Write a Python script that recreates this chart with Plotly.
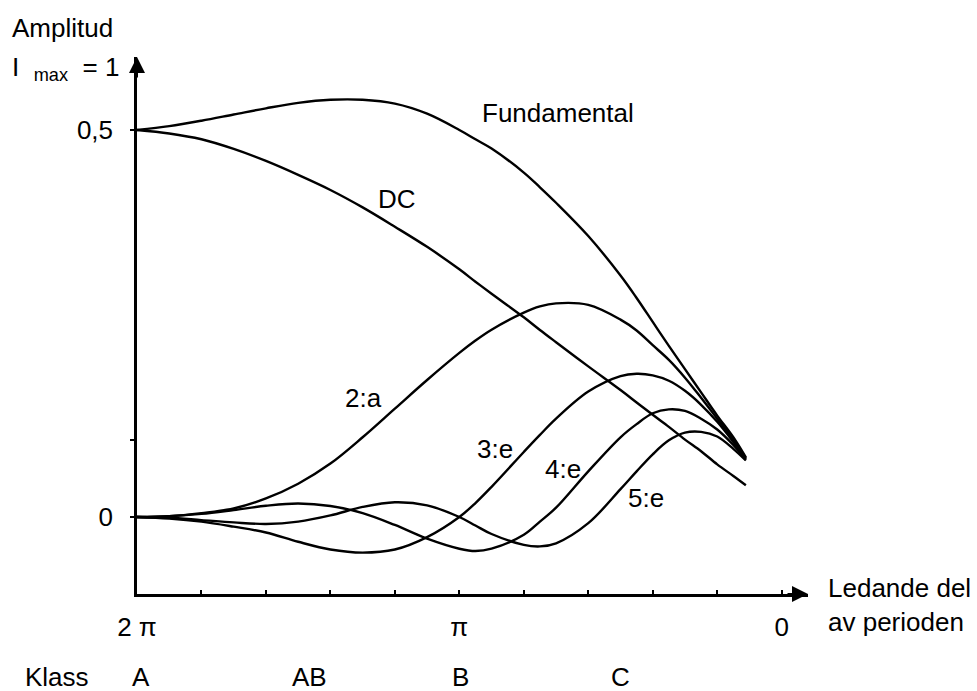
import plotly.graph_objects as go

# conduction angle in degrees (2π = 360 on the left, 0 on the right)
angle = [360, 342, 324, 306, 288, 270, 252, 234, 216, 198, 180, 171, 162, 144, 135,
         126, 108, 90, 81, 72, 63, 54, 45, 36, 27, 20]
fundamental = [0.500, 0.505, 0.512, 0.520, 0.528, 0.535, 0.539, 0.539, 0.534, 0.521, 0.500,
               0.488, 0.476, 0.445, 0.426, 0.406, 0.363, 0.312, 0.283, 0.252, 0.221, 0.191,
               0.161, 0.131, 0.103, 0.077]
dc = [0.500, 0.4955, 0.488, 0.4755, 0.460, 0.442, 0.4225, 0.400, 0.375, 0.349, 0.320, 0.304,
      0.2885, 0.258, 0.2416, 0.2258, 0.1946, 0.164, 0.148, 0.132, 0.1164, 0.100, 0.085,
      0.068, 0.053, 0.041]
second = [0.0, 0.001, 0.005, 0.011, 0.024, 0.043, 0.069, 0.103, 0.140, 0.177, 0.212, 0.228,
          0.242, 0.264, 0.272, 0.276, 0.274, 0.255, 0.241, 0.222, 0.203, 0.180, 0.154,
          0.127, 0.100, 0.076]
third = [0.0, -0.002, -0.006, -0.0125, -0.020, -0.032, -0.042, -0.046, -0.042, -0.026, 0.000,
         0.018, 0.039, 0.084, 0.106, 0.127, 0.162, 0.182, 0.185, 0.183, 0.176, 0.163, 0.145,
         0.123, 0.097, 0.075]
fourth = [0.0, 0.001, 0.004, 0.009, 0.0145, 0.0175, 0.0142, 0.005, -0.0103, -0.028, -0.041,
          -0.044, -0.041, -0.023, -0.006, 0.012, 0.059, 0.103, 0.120, 0.134, 0.139, 0.137,
          0.127, 0.113, 0.093, 0.074]
fifth = [0.0, -0.001, -0.004, -0.007, -0.009, -0.006, 0.002, 0.013, 0.019, 0.015, 0.000,
         -0.011, -0.022, -0.036, -0.038, -0.034, -0.008, 0.036, 0.059, 0.081, 0.099, 0.109,
         0.110, 0.104, 0.088, 0.073]

x_tickvals = [360, 324, 288, 252, 216, 180, 144, 108, 72, 36, 0]
x_ticktext = ["2 π", "", "", "", "", "π", "", "", "", "", "0"]
y_tickvals = [0, 0.1, 0.5]
y_ticktext = ["0", "", "0,5"]

FONT = "Liberation Sans, Arial, sans-serif"
FS = 26
W, H = 977, 691
L, R, T, B = 137, 808, 57, 594  # plot area in pixels


def paper(px, py):
    return (px - L) / (R - L), (B - py) / (B - T)


fig = go.Figure()
for ys in [fundamental, dc, second, third, fourth, fifth]:
    fig.add_trace(go.Scatter(x=angle, y=ys, mode="lines",
                             line=dict(color="black", width=2.4, shape="spline", smoothing=1.0),
                             hoverinfo="skip", showlegend=False))

fig.update_layout(
    width=W, height=H,
    margin=dict(l=L, r=W - R, t=T, b=H - B, pad=0),
    paper_bgcolor="white", plot_bgcolor="white",
    font=dict(family=FONT, size=FS, color="black"),
    showlegend=False,
    xaxis=dict(range=[360, -14.7], showgrid=False, zeroline=False, showline=True,
               linecolor="black", linewidth=2.5, ticks="inside", ticklen=4, tickwidth=1.5,
               tickcolor="black", tickvals=x_tickvals, ticktext=x_ticktext,
               ticklabelstandoff=8, tickfont=dict(family=FONT, size=FS)),
    yaxis=dict(range=[-0.0995, 0.5943], showgrid=False, zeroline=False, showline=True,
               linecolor="black", linewidth=2.5, ticks="outside", ticklen=4, tickwidth=1.5,
               tickcolor="black", tickvals=y_tickvals, ticktext=y_ticktext,
               ticklabelstandoff=12, tickfont=dict(family=FONT, size=FS)),
)

# arrowheads on the axes
ax_, ay_ = paper(R, B)
fig.add_annotation(x=ax_, y=ay_, xref="paper", yref="paper", ax=-22, ay=0, text="",
                   showarrow=True, arrowhead=2, arrowsize=1.6, arrowwidth=2, arrowcolor="black")
ax_, ay_ = paper(L, T)
fig.add_annotation(x=ax_, y=ay_, xref="paper", yref="paper", ax=0, ay=22, text="",
                   showarrow=True, arrowhead=2, arrowsize=1.6, arrowwidth=2, arrowcolor="black")

labels = [
    ("Amplitud", 11, 28, "left"),
    ("I\u00a0\u00a0<sub>max</sub>\u00a0\u00a0= 1", 11, 68, "left"),
    ("Fundamental", 481, 113, "left"),
    ("DC", 377, 199, "left"),
    ("2:a", 344, 398, "left"),
    ("3:e", 476, 449, "left"),
    ("4:e", 544, 469, "left"),
    ("5:e", 627, 498, "left"),
    ("Ledande del", 827, 588, "left"),
    ("av perioden", 827, 622, "left"),
    ("Klass", 24, 677, "left"),
    ("A", 141, 677, "center"),
    ("AB", 309, 677, "center"),
    ("B", 460, 677, "center"),
    ("C", 620, 677, "center"),
]
for text, px, py, anchor in labels:
    xp, yp = paper(px, py)
    fig.add_annotation(x=xp, y=yp, xref="paper", yref="paper", text=text, showarrow=False,
                       xanchor=anchor, yanchor="middle", font=dict(family=FONT, size=FS),
                       borderpad=0)

fig.write_html("out.html")
